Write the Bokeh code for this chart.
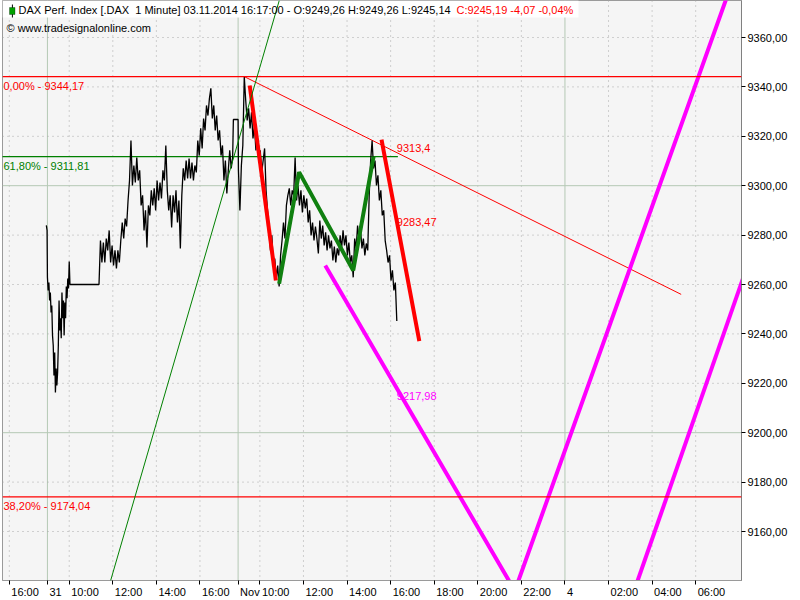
from bokeh.plotting import figure
from bokeh.models import (FixedTicker, CustomJSTickFormatter, Span, Label,
                          BoxAnnotation, Range1d, Slope)
from bokeh.embed import file_html
from bokeh.resources import INLINE

# ---------------- data ----------------
# session open (09:00) position on the compressed intraday axis, in hours
session_open = {"30.10": -7.0, "31.10": 1.75, "03.11": 10.5, "04.11": 34.5}

oct30_times = ["17:42", "17:44"]
oct30_values = [9283.9, 9281.9]

oct31_am_start, oct31_am_step = "09:00", 2
oct31_am = [9262.9, 9257.6, 9260.8, 9253.5, 9256.8, 9248.7, 9251.5, 9239.4, 9235.3, 9223.2,
            9232.5, 9216.3, 9226.0, 9219.1, 9224.4, 9235.3, 9253.5, 9241.4, 9246.3, 9238.2,
            9256.8, 9246.3, 9253.5, 9239.4, 9252.7, 9246.3, 9259.2, 9254.4, 9262.4, 9258.4,
            9269.3, 9260.0]

oct31_pm_start, oct31_pm_step = "11:22", 4
oct31_pm = [9260.0, 9277.8, 9268.9, 9277.0, 9268.9, 9278.6, 9273.8, 9281.9, 9268.9, 9275.8,
            9267.7, 9273.8, 9266.5, 9273.8, 9268.9, 9277.8, 9285.1, 9278.6, 9286.7, 9283.5,
            9294.0, 9302.1, 9318.3, 9300.1, 9308.2, 9301.3, 9311.4, 9302.1, 9306.2, 9292.0,
            9296.1, 9281.9, 9290.0, 9275.0, 9292.0, 9288.0, 9298.1, 9292.0, 9298.9, 9290.0,
            9302.1, 9294.0, 9301.3, 9294.8, 9306.2, 9302.1, 9316.3, 9298.1, 9290.0, 9296.1,
            9283.1, 9296.1, 9289.2, 9298.1, 9285.1, 9294.0, 9274.6, 9296.1, 9307.0, 9302.1,
            9310.2, 9302.9, 9311.0, 9302.9, 9309.4, 9302.1, 9308.2, 9305.4, 9318.3, 9312.2,
            9323.2, 9315.1, 9327.2, 9322.4, 9332.5, 9328.4, 9335.3, 9339.4, 9327.2, 9332.5,
            9322.4, 9328.4, 9318.3, 9322.4, 9312.2, 9316.3, 9302.1, 9310.2, 9296.9, 9306.2,
            9314.3, 9307.0, 9311.4]
oct31_close_times = ["17:32", "17:45"]
oct31_close_values = [9326.8, 9326.8]

nov03_start, nov03_step = "09:01", 4
nov03 = [9306.2, 9290.0, 9308.2, 9316.3, 9344.2, 9334.5, 9326.4, 9331.3, 9323.2, 9329.7,
         9319.1, 9324.4, 9314.3, 9319.1, 9309.4, 9314.3, 9305.4, 9310.2, 9315.1, 9298.1,
         9290.0, 9283.9, 9273.8, 9279.9, 9267.7, 9270.5, 9262.4, 9267.7, 9259.2, 9271.8,
         9277.8, 9285.1, 9278.6, 9292.0, 9296.1, 9298.9, 9292.0, 9298.1, 9296.1, 9311.4,
         9294.0, 9300.1, 9292.0, 9298.1, 9289.2, 9296.1, 9290.8, 9294.8, 9285.1, 9290.0,
         9279.9, 9285.1, 9277.8, 9283.5, 9278.6, 9272.6, 9285.9, 9278.6, 9283.9, 9275.8,
         9281.1, 9273.8, 9279.9, 9274.6, 9277.8, 9269.7, 9275.4, 9268.9, 9274.6, 9271.8,
         9279.9, 9274.6, 9281.9, 9275.8, 9279.9, 9271.8, 9277.0, 9268.9, 9271.8, 9262.9,
         9278.6, 9274.6, 9283.9, 9277.8, 9282.7, 9274.6, 9278.6, 9271.8, 9276.6, 9273.8,
         9296.1, 9310.2, 9318.3, 9307.0, 9310.2, 9300.1, 9304.2, 9294.0, 9298.1, 9288.0,
         9290.0, 9277.8, 9273.8, 9268.9, 9271.8, 9261.6, 9265.7, 9257.6, 9260.8, 9245.19]

last_date = "03.11.2014"
last_time = ("03.11", "16:17")
last_bar = {"O": 9249.26, "H": 9249.26, "L": 9245.14, "C": 9245.19}
last_change, last_change_pct = -4.07, -0.04

# x-axis ticks
tick_days = ["30.10", "31.10", "31.10", "31.10", "31.10", "31.10", "03.11", "03.11", "03.11",
             "03.11", "03.11", "03.11", "03.11", "03.11", "04.11", "04.11", "04.11", "04.11"]
tick_times = ["16:00", "09:00", "10:00", "12:00", "14:00", "16:00", "09:00", "10:00", "12:00",
              "14:00", "16:00", "18:00", "20:00", "22:00", "00:00", "02:00", "04:00", "06:00"]
tick_labels = ["16:00", "31", "10:00", "12:00", "14:00", "16:00", "Nov", "10:00", "12:00",
               "14:00", "16:00", "18:00", "20:00", "22:00", "4", "02:00", "04:00", "06:00"]
day_labels = ["31", "Nov", "4"]

y_ticks = [9160, 9180, 9200, 9220, 9240, 9260, 9280, 9300, 9320, 9340, 9360]

# Fibonacci levels
fib_levels = [9344.17, 9311.81, 9174.04]
fib_pcts = ["0,00%", "61,80%", "38,20%"]
fib_colors = ["#ff0000", "#008000", "#ff0000"]
fib_green_end = ("03.11", "16:20")

# drawings: (day, time, price)
green_trend = [("31.10", "13:00", 9173.5), ("03.11", "10:00", 9348.0)]
red_trend = [("03.11", "09:17", 9344.17), ("04.11", "05:20", 9256.0)]
red_leg1 = [("03.11", "09:32", 9340.6), ("03.11", "10:44", 9261.6)]
green_legs = [("03.11", "10:53", 9260.3), ("03.11", "11:48", 9305.5),
              ("03.11", "14:17", 9265.7), ("03.11", "15:13", 9311.8)]
red_leg2 = [("03.11", "15:35", 9318.7), ("03.11", "17:19", 9237.1)]
magenta_v = [("03.11", "13:00", 9267.7), ("03.11", "21:42", 9136.0), ("04.11", "08:00", 9390.4)]
magenta_par = [("04.11", "03:00", 9131.6), ("04.11", "08:30", 9270.8)]

value_labels = ["9313,4", "9283,47", "9217,98"]
value_levels = [9313.4, 9283.47, 9217.98]
value_colors = ["#ff0000", "#ff0000", "#ff00ff"]
value_baselines = ["bottom", "bottom", "top"]


# ---------------- helpers ----------------
def tx(day, hhmm):
    hh, mm = hhmm.split(":")
    return session_open[day] + int(hh) + int(mm) / 60.0 - 9.0


def regular(day, start, step, values):
    t0 = tx(day, start)
    return [t0 + i * step / 60.0 for i in range(len(values))]


def pts(lst):
    return [tx(d, t) for d, t, _ in lst], [v for _, _, v in lst]


def de(v):
    return f"{v:.2f}".replace(".", ",")


W, H = 800, 600
FL, FT, FR, FB = 2, 0, 741, 580          # frame edges in page pixels
PX_PER_H = 21.79
PX_PER_PT = 2.47
X0_PX = 8.8                               # page x of 30.10 16:00
X_LEFT = tx("30.10", "16:00") - (X0_PX - FL) / PX_PER_H
Y_TOP = 9360 + 37 / PX_PER_PT             # 9360 sits at page y 37


def px(x):  # page pixel -> axis units (annotations only)
    return X_LEFT + (x - FL) / PX_PER_H


def py(y):
    return Y_TOP - (y - FT) / PX_PER_PT


price_x = ([tx("30.10", t) for t in oct30_times]
           + regular("31.10", oct31_am_start, oct31_am_step, oct31_am)
           + regular("31.10", oct31_pm_start, oct31_pm_step, oct31_pm)
           + [tx("31.10", t) for t in oct31_close_times]
           + regular("03.11", nov03_start, nov03_step, nov03))
price_y = oct30_values + oct31_am + oct31_pm + oct31_close_values + nov03

FONT = "Liberation Sans"

p = figure(width=W, height=H,
           x_range=Range1d(X_LEFT, px(FR)), y_range=Range1d(py(FB), Y_TOP),
           y_axis_location="right", output_backend="svg", toolbar_location=None,
           min_border_left=FL, min_border_top=FT, min_border_right=W - FR,
           min_border_bottom=H - FB,
           background_fill_color="#f5f5f5", border_fill_color="white",
           outline_line_color="#9a9a9a")
p.xgrid.visible = False
p.ygrid.visible = False

# ---- x axis: labels to the right of their ticks ----
char_w = {":": 3.06, "N": 7.94, "o": 6.12, "v": 5.5}
tick_x = [tx(d, t) for d, t in zip(tick_days, tick_times)]
centers = []
for x, lab in zip(tick_x, tick_labels):
    w = sum(char_w.get(c, 6.12) for c in lab)
    centers.append(x + (2 + w / 2) / PX_PER_H)
xa = p.xaxis[0]
xa.ticker = FixedTicker(ticks=centers, minor_ticks=tick_x)
xa.formatter = CustomJSTickFormatter(args=dict(c=centers, labels=tick_labels), code="""
    let best = 0, bd = 1e9;
    for (let i = 0; i < c.length; i++) { const d = Math.abs(c[i] - tick); if (d < bd) { bd = d; best = i; } }
    return labels[best];
""")
xa.major_tick_line_color = None
xa.major_tick_out = 4
xa.major_tick_in = 0
xa.minor_tick_line_color = "black"
xa.minor_tick_out = 4
xa.minor_tick_in = 0
xa.major_label_standoff = 1
xa.axis_line_color = "#9a9a9a"
xa.major_label_text_font = FONT
xa.major_label_text_font_size = "11px"
xa.major_label_text_color = "black"

ya = p.yaxis[0]
ya.ticker = FixedTicker(ticks=y_ticks, minor_ticks=[])
ya.formatter = CustomJSTickFormatter(code="return tick.toFixed(2).replace('.', ',');")
ya.major_tick_out = 4
ya.major_tick_in = 0
ya.major_tick_line_color = "black"
ya.minor_tick_line_color = None
ya.major_label_standoff = 2
ya.axis_line_color = "#808080"
ya.major_label_text_font = FONT
ya.major_label_text_font_size = "11px"
ya.major_label_text_color = "black"

# ---- grid ----
SOLID = "#b4c8b4"
DOT = "#a8a8a8"
for x, lab in zip(tick_x, tick_labels):
    if lab in day_labels:
        p.add_layout(Span(location=x, dimension="height", line_color=SOLID, line_width=1, level="underlay"))
    else:
        p.add_layout(Span(location=x, dimension="height", line_color=DOT, line_width=1,
                          line_dash="1 4", level="underlay"))
for v in y_ticks:
    if v % 100 == 0:
        p.add_layout(Span(location=v, dimension="width", line_color=SOLID, line_width=1, level="underlay"))
    else:
        p.add_layout(Span(location=v, dimension="width", line_color=DOT, line_width=1,
                          line_dash="1 4", level="underlay"))

# header background
p.add_layout(BoxAnnotation(left=px(FL), right=px(578), top=py(0), bottom=py(17),
                           fill_color="white", fill_alpha=1, line_color=None, level="underlay"))

# ---- fibonacci levels ----
for lvl, pct, col in zip(fib_levels, fib_pcts, fib_colors):
    if col == "#008000":
        p.line([X_LEFT - 1, tx(*fib_green_end)], [lvl, lvl], line_color=col, line_width=1.2)
    else:
        p.add_layout(Span(location=lvl, dimension="width", line_color=col, line_width=1.2))
    p.add_layout(Label(x=px(3), y=lvl, text=f"{pct} - {de(lvl)}", text_color=col,
                       text_font=FONT, text_font_size="11px", text_baseline="top", y_offset=-3))

# ---- drawings ----
gx, gy = pts(green_trend)
grad = (gy[1] - gy[0]) / (gx[1] - gx[0])
p.add_layout(Slope(gradient=grad, y_intercept=gy[0] - grad * gx[0], line_color="#008000", line_width=1))

rx, ry = pts(red_trend)
p.line(rx, ry, line_color="#ff0000", line_width=1)

# price
p.line(price_x, price_y, line_color="black", line_width=1.3)

mx, my = pts(magenta_v)
p.line(mx, my, line_color="#ff00ff", line_width=4)
mx2, my2 = pts(magenta_par)
p.line(mx2, my2, line_color="#ff00ff", line_width=4)

for leg, col in [(red_leg1, "#ff0000"), (green_legs, "#108010"), (red_leg2, "#ff0000")]:
    lx, ly = pts(leg)
    p.line(lx, ly, line_color=col, line_width=4)

xl = tx(*last_time)
for txt, lvl, col, bl in zip(value_labels, value_levels, value_colors, value_baselines):
    p.add_layout(Label(x=xl, y=lvl, text=txt, text_color=col, text_font=FONT,
                       text_font_size="11px", text_baseline=bl, y_offset=(-4 if bl == "top" else 1)))

# ---- header ----
p.add_layout(BoxAnnotation(left=px(11.4), right=px(12.4), top=py(4), bottom=py(17),
                           fill_color="black", fill_alpha=1, line_color=None))
p.add_layout(BoxAnnotation(left=px(9), right=px(14.5), top=py(7), bottom=py(14),
                           fill_color="#00a000", fill_alpha=1, line_color="black", line_width=1))
head_black = (f"DAX Perf. Index [.DAX\u00a0 1 Minute] {last_date} {last_time[1]}:00 - "
              f"O:{de(last_bar['O'])} H:{de(last_bar['H'])} L:{de(last_bar['L'])}")
head_red = f"C:{de(last_bar['C'])} {de(last_change)} {de(last_change_pct)}%"
p.add_layout(Label(x=px(18), y=py(9), text=head_black, text_color="black", text_font=FONT,
                   text_font_size="11px", text_baseline="middle"))
p.add_layout(Label(x=px(456), y=py(9), text=head_red, text_color="#ff0000", text_font=FONT,
                   text_font_size="11px", text_baseline="middle"))
p.add_layout(Label(x=px(6), y=py(27.5), text="\u00a9 www.tradesignalonline.com", text_color="black",
                   text_font=FONT, text_font_size="11px", text_baseline="middle"))
p.add_layout(Label(x=px(745), y=py(11), text="XXP", text_color="black", text_font=FONT,
                   text_font_size="11px", text_baseline="middle"))

open("out.html", "w").write(file_html(p, INLINE))
